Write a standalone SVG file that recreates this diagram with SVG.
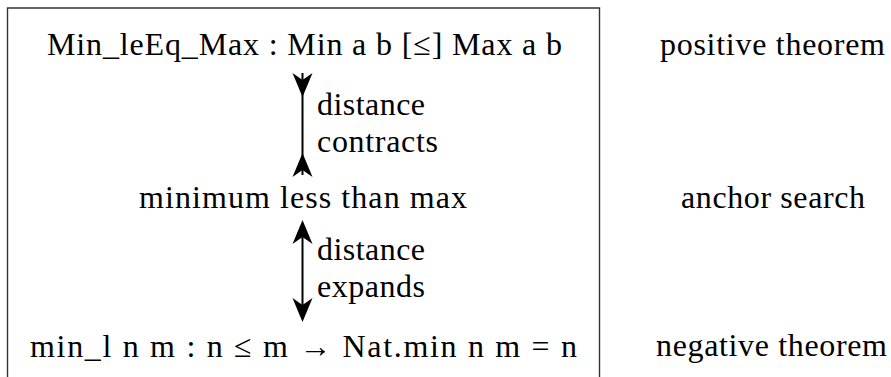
<svg xmlns="http://www.w3.org/2000/svg" width="891" height="377" viewBox="0 0 891 377">
<style>
.t{font-family:'Liberation Serif','Times New Roman',serif;font-size:32px;fill:#000;}
.c{text-anchor:middle;}
.l{text-anchor:start;}
.frame{fill:none;stroke:#333;stroke-width:1.4;}
.edge{stroke:#000;stroke-width:2;fill:none;}
.head{fill:#000;}
</style>
<defs>
<path id="headDown" class="head" d="M0,0 L-10,-24 L0,-17 L10,-24 Z"/>
<path id="headUp" class="head" d="M0,0 L-10,24 L0,17 L10,24 Z"/>
</defs>
<g id="frame"><path class="frame" d="M7.5,377 V8 H599.5 V377"/></g>
<g id="node-positive"><text class="t c" x="304.5" y="55" textLength="515" lengthAdjust="spacing">Min_leEq_Max : Min a b [≤] Max a b</text></g>
<g id="node-anchor"><text class="t c" x="303" y="208" textLength="328" lengthAdjust="spacing">minimum less than max</text></g>
<g id="node-negative"><text class="t c" x="303.5" y="357" textLength="547" lengthAdjust="spacing">min_l n m : n ≤ m → Nat.min n m = n</text></g>
<g id="label-positive"><text class="t c" x="772.5" y="55" textLength="225" lengthAdjust="spacing">positive theorem</text></g>
<g id="label-anchor"><text class="t c" x="773" y="208" textLength="184" lengthAdjust="spacing">anchor search</text></g>
<g id="label-negative"><text class="t c" x="771.5" y="356" textLength="231" lengthAdjust="spacing">negative theorem</text></g>
<g id="connectors">
<line class="edge" x1="302.5" y1="73" x2="302.5" y2="175"/>
<use href="#headDown" x="302.5" y="97"/>
<use href="#headUp" x="302.5" y="153"/>
<line class="edge" x1="302.5" y1="228" x2="302.5" y2="314"/>
<use href="#headUp" x="302.5" y="220"/>
<use href="#headDown" x="302.5" y="322"/>
<text class="t l" x="317" y="115" textLength="108" lengthAdjust="spacing">distance</text>
<text class="t l" x="317" y="152" textLength="121" lengthAdjust="spacing">contracts</text>
<text class="t l" x="317" y="260" textLength="108" lengthAdjust="spacing">distance</text>
<text class="t l" x="317" y="297" textLength="108" lengthAdjust="spacing">expands</text>
</g>
</svg>
